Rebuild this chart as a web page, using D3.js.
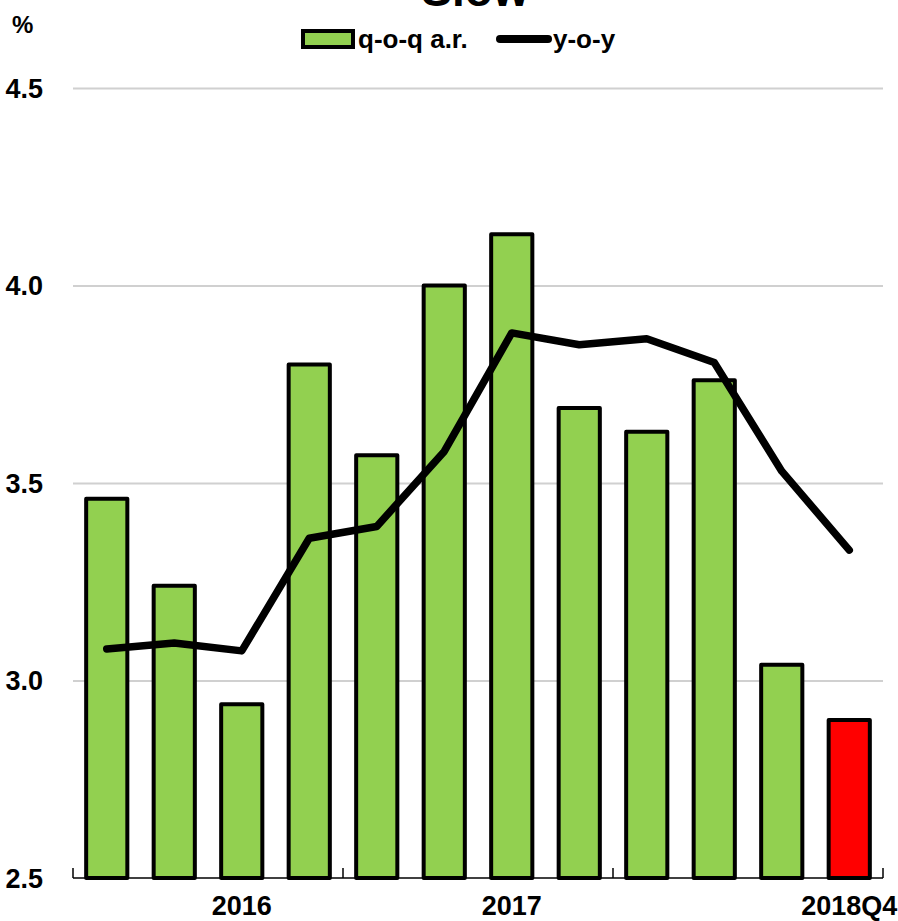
<!DOCTYPE html>
<meta charset="utf-8">
<style>
  body { margin: 0; background: #fff; }
  text { font-family: "Liberation Sans Narrow", "Arial Narrow", "Liberation Sans", sans-serif; font-weight: bold; fill: #000; }
  .title { font-family: "Liberation Sans", Arial, sans-serif; }
  .grid line { stroke: #d0d0d0; stroke-width: 2px; }
  .grid path { stroke-width: 0; }
</style>
<script src="https://d3js.org/d3.v7.min.js"></script>
<div id="chart"></div>
<script>
  var quarters = ["2015Q4","2016Q1","2016Q2","2016Q3","2016Q4","2017Q1","2017Q2","2017Q3","2017Q4","2018Q1","2018Q2","2018Q3"]
  // q-o-q annualised rate (bars)
  var qoq = [3.46, 3.24, 2.94, 3.80, 3.57, 4.00, 4.13, 3.69, 3.63, 3.76, 3.04, 2.90]
  // y-o-y (line)
  var yoy = [3.08, 3.095, 3.075, 3.36, 3.39, 3.58, 3.88, 3.85, 3.865, 3.805, 3.53, 3.33]
  var yTicks = [2.5, 3.0, 3.5, 4.0, 4.5]
  var xLabels = [{i: 2, text: "2016"}, {i: 6, text: "2017"}, {i: 11, text: "2018Q4"}]
  var yearBreaks = [0, 4, 8, 12]

  var width = 898, height = 921
  var margin = {top: 88, right: 15, bottom: 43, left: 73}
  var innerW = width - margin.left - margin.right,
      innerH = height - margin.top - margin.bottom

  var svg = d3.select("#chart").append("svg")
      .attr("width", width)
      .attr("height", height)

  // title, mostly cut off at the top like the source
  svg.append("text")
    .attr("class", "title")
    .attr("x", 475).attr("y", 6)
    .attr("text-anchor", "middle")
    .style("font-size", "46px")
    .text("Slow")

  svg.append("text")
    .attr("x", 12).attr("y", 33)
    .style("font-size", "24px")
    .text("%")

  // legend
  var legend = svg.append("g")
  legend.append("rect")
    .attr("x", 303).attr("y", 31).attr("width", 50).attr("height", 16)
    .attr("fill", "#92d050").attr("stroke", "#000").attr("stroke-width", 4)
  legend.append("text")
    .attr("x", 358).attr("y", 48)
    .style("font-size", "26px")
    .text("q-o-q a.r.")
  legend.append("line")
    .attr("x1", 500).attr("x2", 548).attr("y1", 39).attr("y2", 39)
    .attr("stroke", "#000").attr("stroke-width", 8).attr("stroke-linecap", "round")
  legend.append("text")
    .attr("x", 553).attr("y", 48)
    .style("font-size", "26px")
    .text("y-o-y")

  var g = svg.append("g")
    .attr("transform", "translate(" + margin.left + "," + margin.top + ")")

  var x = d3.scaleBand()
    .domain(quarters)
    .range([0, innerW])
    .paddingInner(0.39)
    .paddingOuter(0.195)

  var y = d3.scaleLinear()
    .domain([2.5, 4.5])
    .range([innerH, 0])

  g.append("g")
    .attr("class", "grid")
    .call(d3.axisLeft(y).tickValues(yTicks.slice(1)).tickSize(-innerW).tickFormat(""))

  g.selectAll(".ylab")
    .data(yTicks)
    .enter().append("text")
      .attr("class", "ylab")
      .attr("x", -30)
      .attr("y", function(d) { return y(d); })
      .attr("dy", "0.36em")
      .attr("text-anchor", "end")
      .style("font-size", "27px")
      .text(function(d) { return d3.format(".1f")(d); })

  // x axis baseline and year separators
  g.append("line")
    .attr("x1", 0).attr("x2", innerW)
    .attr("y1", innerH).attr("y2", innerH)
    .attr("stroke", "#000").attr("stroke-width", 1.5)

  var step = innerW / quarters.length
  g.selectAll(".sep")
    .data(yearBreaks)
    .enter().append("line")
      .attr("class", "sep")
      .attr("x1", function(d) { return d * step; })
      .attr("x2", function(d) { return d * step; })
      .attr("y1", innerH).attr("y2", innerH - 10)
      .attr("stroke", "#000").attr("stroke-width", 1.5)

  g.selectAll(".bar")
    .data(qoq)
    .enter().append("rect")
      .attr("class", "bar")
      .attr("x", function(d, i) { return x(quarters[i]); })
      .attr("width", x.bandwidth())
      .attr("y", function(d) { return y(d); })
      .attr("height", function(d) { return innerH - y(d); })
      .attr("fill", function(d, i) { return i == quarters.length - 1 ? "#ff0000" : "#92d050"; })
      .attr("stroke", "#000")
      .attr("stroke-width", 4)
      .attr("stroke-linejoin", "round")

  var line = d3.line()
    .x(function(d, i) { return x(quarters[i]) + x.bandwidth() / 2; })
    .y(function(d) { return y(d); })

  g.append("path")
    .datum(yoy)
    .attr("d", line)
    .attr("fill", "none")
    .attr("stroke", "#000")
    .attr("stroke-width", 7.5)
    .attr("stroke-linecap", "round")
    .attr("stroke-linejoin", "round")

  g.selectAll(".xlab")
    .data(xLabels)
    .enter().append("text")
      .attr("class", "xlab")
      .attr("x", function(d) { return x(quarters[d.i]) + x.bandwidth() / 2; })
      .attr("y", innerH + 37)
      .attr("text-anchor", "middle")
      .style("font-size", "27px")
      .text(function(d) { return d.text; })
</script>
